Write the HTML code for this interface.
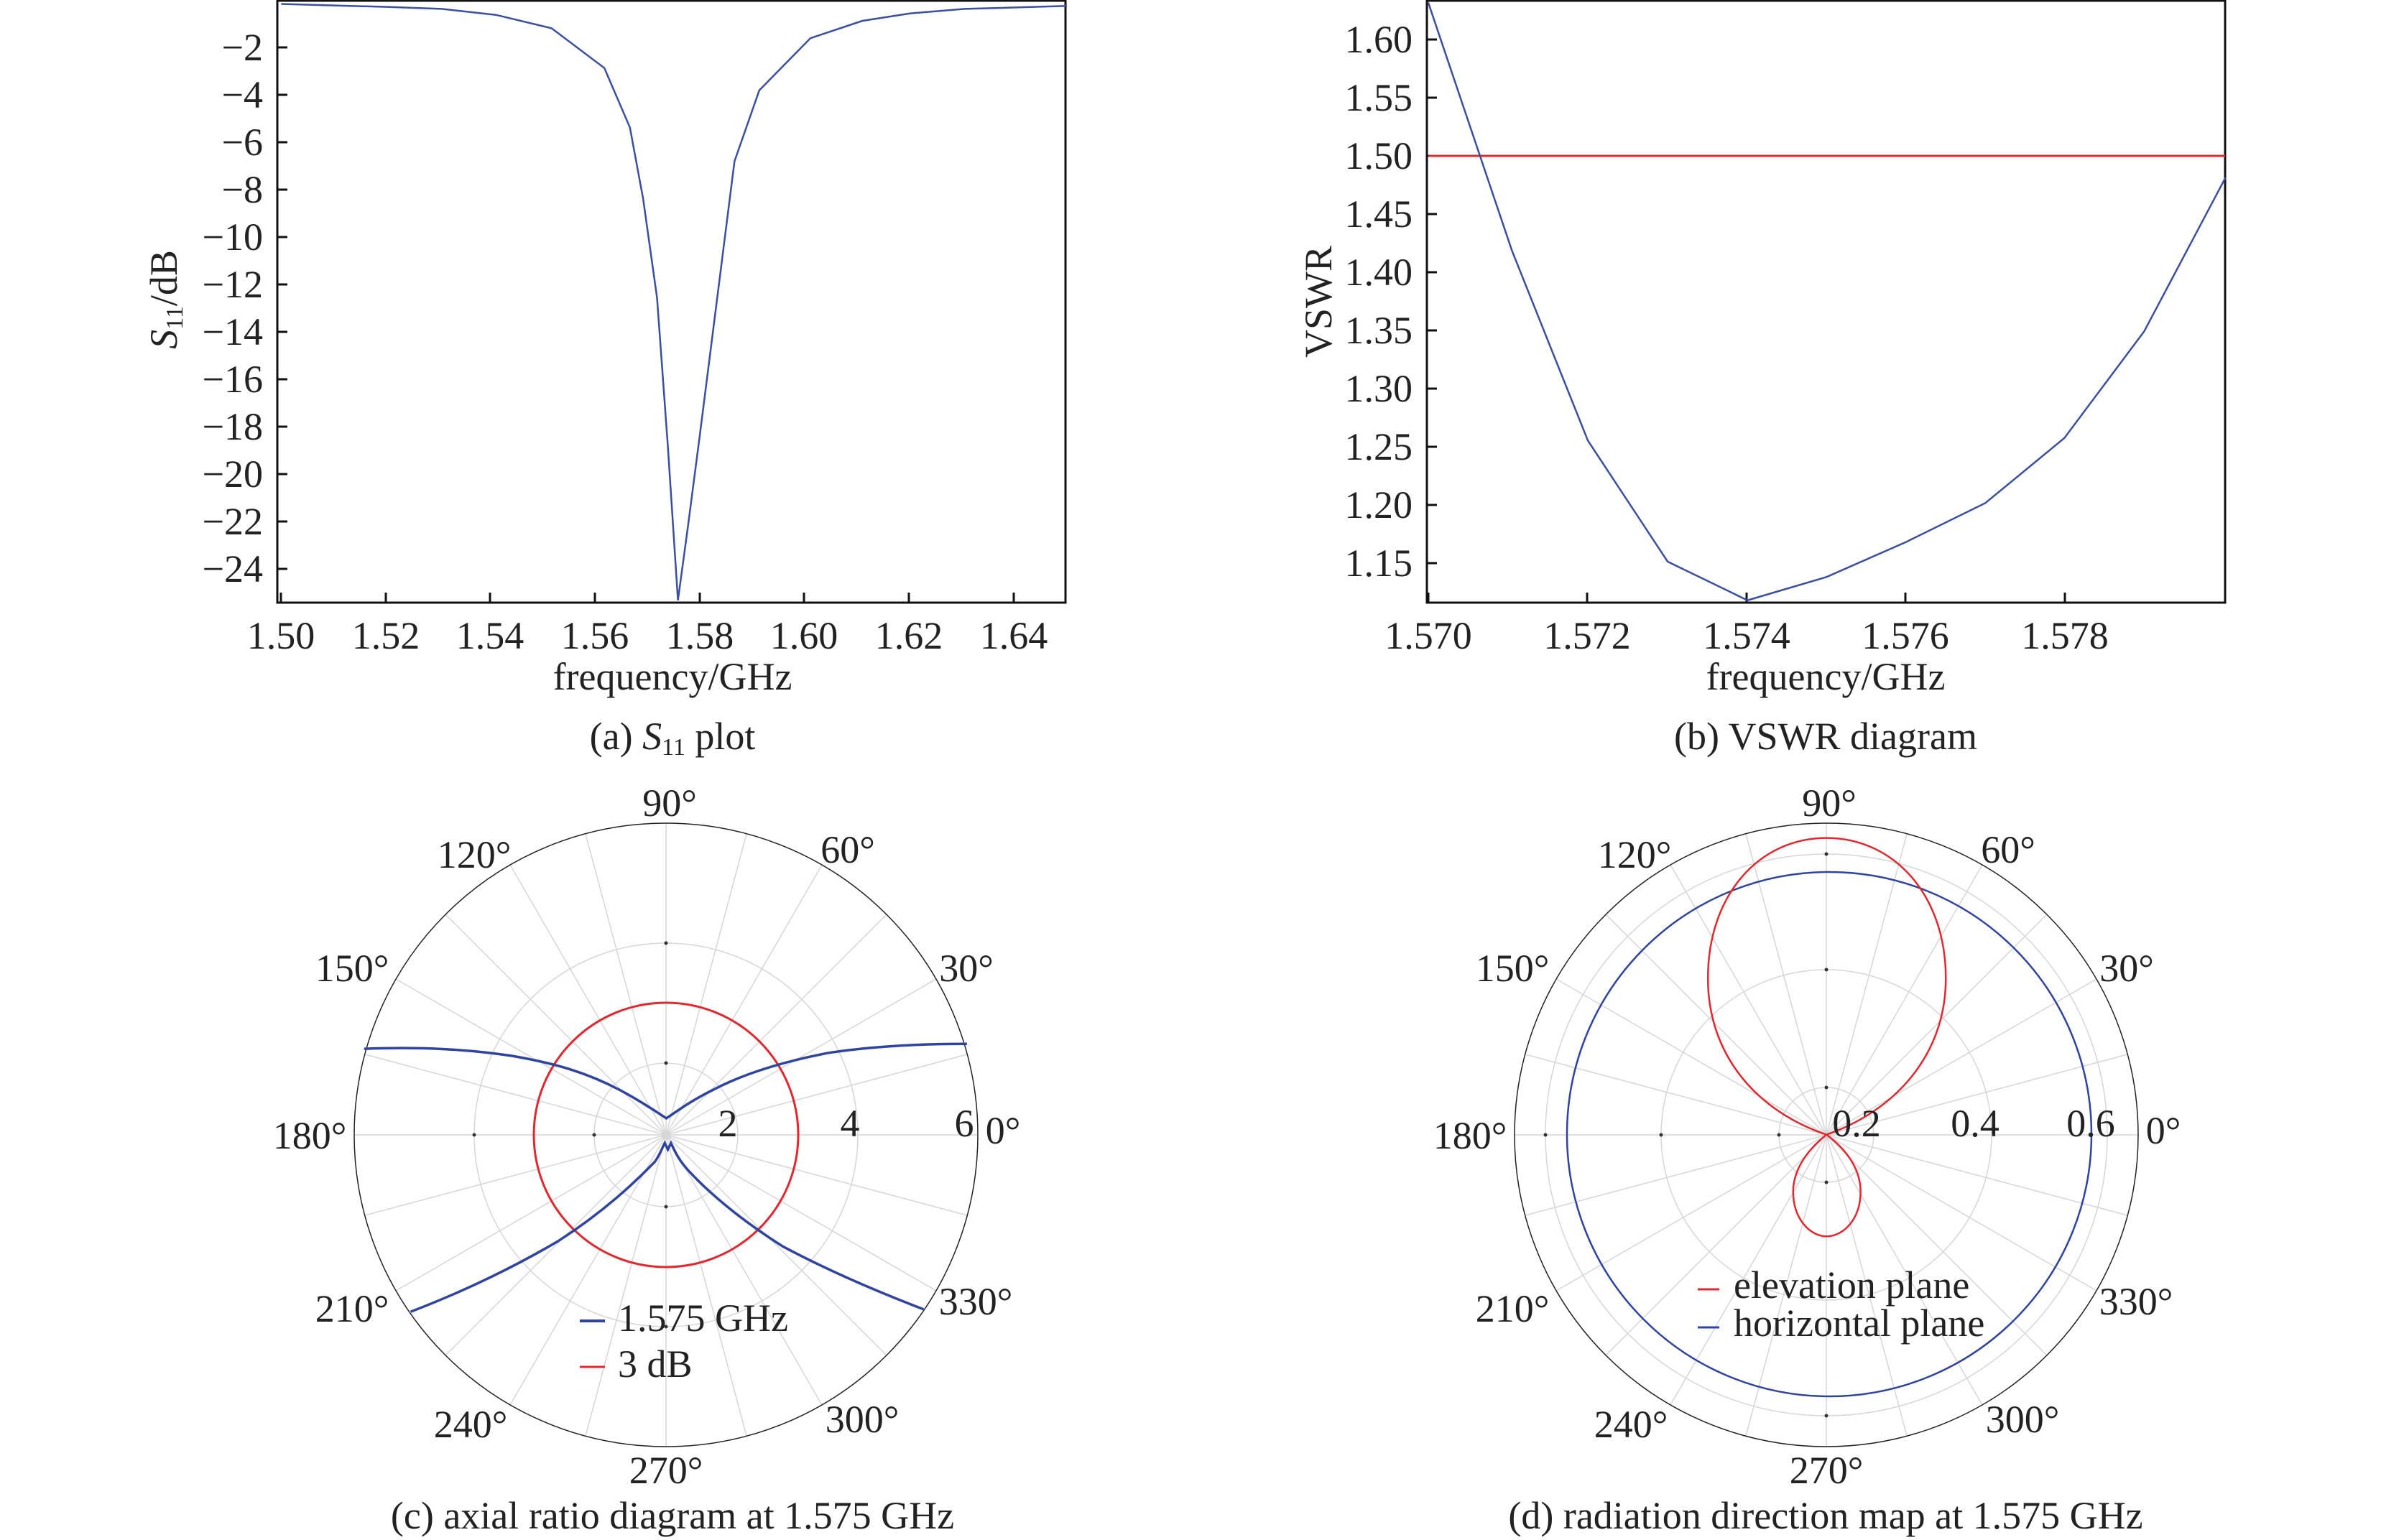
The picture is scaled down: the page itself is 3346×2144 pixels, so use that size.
<!DOCTYPE html>
<html><head><meta charset="utf-8"><style>html,body{margin:0;padding:0;background:#fff}svg{display:block}svg text{font-family:"Liberation Serif",serif}</style></head><body>
<svg xmlns="http://www.w3.org/2000/svg" width="3346" height="2144" viewBox="0 0 3346 2144" fill="#222">
<defs>
<g id="spokes" stroke="#d6d6d6" stroke-width="1.5">
<line x1="434" y1="0" x2="-434" y2="0"/><line x1="419" y1="-112" x2="-419" y2="112"/><line x1="376" y1="-217" x2="-376" y2="217"/><line x1="307" y1="-307" x2="-307" y2="307"/><line x1="217" y1="-376" x2="-217" y2="376"/><line x1="112" y1="-419" x2="-112" y2="419"/><line x1="0" y1="-434" x2="0" y2="434"/><line x1="-112" y1="-419" x2="112" y2="419"/><line x1="-217" y1="-376" x2="217" y2="376"/><line x1="-307" y1="-307" x2="307" y2="307"/><line x1="-376" y1="-217" x2="376" y2="217"/><line x1="-419" y1="-112" x2="419" y2="112"/>
</g>
</defs>

<!-- Panel a -->
<g fill="none" stroke="#111" stroke-width="3">
<rect x="386" y="1" width="1097" height="838"/>
</g>
<g stroke="#111" stroke-width="3">
<line x1="391" y1="839" x2="391" y2="825"/><line x1="537" y1="839" x2="537" y2="825"/><line x1="682" y1="839" x2="682" y2="825"/><line x1="828" y1="839" x2="828" y2="825"/><line x1="974" y1="839" x2="974" y2="825"/><line x1="1119" y1="839" x2="1119" y2="825"/><line x1="1265" y1="839" x2="1265" y2="825"/><line x1="1411" y1="839" x2="1411" y2="825"/>
<line x1="386" y1="66" x2="400" y2="66"/><line x1="386" y1="132" x2="400" y2="132"/><line x1="386" y1="198" x2="400" y2="198"/><line x1="386" y1="264" x2="400" y2="264"/><line x1="386" y1="330" x2="400" y2="330"/><line x1="386" y1="396" x2="400" y2="396"/><line x1="386" y1="462" x2="400" y2="462"/><line x1="386" y1="528" x2="400" y2="528"/><line x1="386" y1="594" x2="400" y2="594"/><line x1="386" y1="660" x2="400" y2="660"/><line x1="386" y1="726" x2="400" y2="726"/><line x1="386" y1="792" x2="400" y2="792"/>
</g>
<g transform="scale(1.0784,0.6907)">
<polyline fill="none" stroke="#3a4fa0" stroke-width="2.5" vector-effect="non-scaling-stroke" points="363,8 500,14 570,18 640,30 712,57 780,137 813,257 830,400 848,600 862,900 875,1210 888,1060 903,880 916,720 948,325 980,182 1046,77 1113,42 1175,27 1245,18 1377,12"/>
</g>
<g font-size="54" text-anchor="end">
<text x="366" y="84">−2</text><text x="366" y="150">−4</text><text x="366" y="216">−6</text><text x="366" y="282">−8</text><text x="366" y="348">−10</text><text x="366" y="414">−12</text><text x="366" y="480">−14</text><text x="366" y="546">−16</text><text x="366" y="612">−18</text><text x="366" y="678">−20</text><text x="366" y="744">−22</text><text x="366" y="810">−24</text>
</g>
<g font-size="54" text-anchor="middle">
<text x="391" y="903">1.50</text><text x="537" y="903">1.52</text><text x="682" y="903">1.54</text><text x="828" y="903">1.56</text><text x="974" y="903">1.58</text><text x="1119" y="903">1.60</text><text x="1265" y="903">1.62</text><text x="1411" y="903">1.64</text>
<text x="936" y="960">frequency/GHz</text>
<text x="936" y="1043">(a) <tspan font-style="italic">S</tspan><tspan font-size="34" dy="8">11</tspan><tspan dy="-8"> plot</tspan></text>
</g>
<text font-size="54" text-anchor="middle" transform="translate(246,417) rotate(-90)"><tspan font-style="italic">S</tspan><tspan font-size="34" dy="8">11</tspan><tspan dy="-8">/dB</tspan></text>

<!-- Panel b -->
<rect x="1986" y="1" width="1111" height="838" fill="none" stroke="#111" stroke-width="3"/>
<g stroke="#111" stroke-width="3">
<line x1="1988" y1="839" x2="1988" y2="825"/><line x1="2209" y1="839" x2="2209" y2="825"/><line x1="2431" y1="839" x2="2431" y2="825"/><line x1="2652" y1="839" x2="2652" y2="825"/><line x1="2874" y1="839" x2="2874" y2="825"/>
<line x1="1986" y1="55" x2="2000" y2="55"/><line x1="1986" y1="136" x2="2000" y2="136"/><line x1="1986" y1="217" x2="2000" y2="217"/><line x1="1986" y1="298" x2="2000" y2="298"/><line x1="1986" y1="379" x2="2000" y2="379"/><line x1="1986" y1="460" x2="2000" y2="460"/><line x1="1986" y1="541" x2="2000" y2="541"/><line x1="1986" y1="622" x2="2000" y2="622"/><line x1="1986" y1="703" x2="2000" y2="703"/><line x1="1986" y1="784" x2="2000" y2="784"/>
</g>
<line x1="1988" y1="217" x2="3097" y2="217" stroke="#e0282f" stroke-width="3"/>
<g transform="translate(1673,0) scale(1.0784,0.6907)">
<polyline fill="none" stroke="#3a4fa0" stroke-width="2.5" vector-effect="non-scaling-stroke" points="292,5 400,505 498,888 601,1132 704,1210 806,1163 908,1093 1011,1014 1113,883 1216,668 1321,358"/>
</g>
<g font-size="54" text-anchor="end">
<text x="1966" y="73">1.60</text><text x="1966" y="154">1.55</text><text x="1966" y="235">1.50</text><text x="1966" y="316">1.45</text><text x="1966" y="397">1.40</text><text x="1966" y="478">1.35</text><text x="1966" y="559">1.30</text><text x="1966" y="640">1.25</text><text x="1966" y="721">1.20</text><text x="1966" y="802">1.15</text>
</g>
<g font-size="54" text-anchor="middle">
<text x="1988" y="903">1.570</text><text x="2209" y="903">1.572</text><text x="2431" y="903">1.574</text><text x="2652" y="903">1.576</text><text x="2874" y="903">1.578</text>
<text x="2541" y="960">frequency/GHz</text>
<text x="2541" y="1043">(b) VSWR diagram</text>
</g>
<text font-size="54" text-anchor="middle" transform="translate(1853,420) rotate(-90)">VSWR</text>

<!-- Panel c -->
<g transform="translate(927,1580)">
<use href="#spokes"/>
<circle r="100" fill="none" stroke="#d6d6d6" stroke-width="1.5"/>
<circle r="267" fill="none" stroke="#d6d6d6" stroke-width="1.5"/>
<circle r="434" fill="none" stroke="#222" stroke-width="1.5"/>
<g fill="#333"><circle cx="-100" r="2.5"/><circle cx="-267" r="2.5"/><circle cy="-100" r="2.5"/><circle cy="-267" r="2.5"/><circle cy="100" r="2.5"/><circle cy="267" r="2.5"/></g>
<circle r="184" fill="none" stroke="#e0282f" stroke-width="3"/>
</g>
<g transform="translate(0,1072) scale(1.0784,0.6907)" fill="none" stroke="#2e44a0" stroke-width="3.5">
<path vector-effect="non-scaling-stroke" d="M470,562 C540,558 600,562 660,576 C720,592 760,612 800,645 C830,670 848,690 860,702 C872,690 890,668 920,645 C960,612 1010,588 1070,570 C1130,556 1190,552 1248,552"/>
<path vector-effect="non-scaling-stroke" d="M530,1092 C600,1050 660,1005 720,950 C780,890 820,830 845,790 C852,775 855,760 858,752 L862,765 L866,752 C870,765 875,785 890,810 C920,860 960,910 1010,960 C1070,1010 1130,1050 1192,1087"/>
</g>
<g font-size="54" text-anchor="middle">
<text x="932" y="1136">90°</text><text x="660" y="1208">120°</text><text x="1180" y="1201">60°</text><text x="490" y="1366">150°</text><text x="1345" y="1366">30°</text><text x="431" y="1599">180°</text><text x="1396" y="1592">0°</text><text x="490" y="1840">210°</text><text x="1358" y="1830">330°</text><text x="655" y="2001">240°</text><text x="1200" y="1994">300°</text><text x="927" y="2065">270°</text>
<text x="1013" y="1582">2</text><text x="1183" y="1582">4</text><text x="1342" y="1582">6</text>
</g>
<line x1="807" y1="1839" x2="842" y2="1839" stroke="#2e44a0" stroke-width="4"/>
<line x1="807" y1="1903" x2="842" y2="1903" stroke="#e0282f" stroke-width="3"/>
<g font-size="54"><text x="860" y="1853">1.575 GHz</text><text x="860" y="1917">3 dB</text></g>
<text x="936" y="2128" font-size="54" text-anchor="middle">(c) axial ratio diagram at 1.575 GHz</text>

<!-- Panel d -->
<g transform="translate(2542,1580)">
<use href="#spokes"/>
<circle r="66" fill="none" stroke="#d6d6d6" stroke-width="1.5"/>
<circle r="230" fill="none" stroke="#d6d6d6" stroke-width="1.5"/>
<circle r="391" fill="none" stroke="#d6d6d6" stroke-width="1.5"/>
<circle r="434" fill="none" stroke="#222" stroke-width="1.5"/>
<g fill="#333"><circle cx="-66" r="2.5"/><circle cx="-230" r="2.5"/><circle cx="-391" r="2.5"/><circle cy="-66" r="2.5"/><circle cy="-230" r="2.5"/><circle cy="-391" r="2.5"/><circle cy="66" r="2.5"/><circle cy="391" r="2.5"/></g>
</g>
<circle cx="2546" cy="1579" r="365" fill="none" stroke="#2e44a0" stroke-width="2.5"/>
<g transform="translate(1673,1072) scale(1.0784,0.6907)" fill="none" stroke="#e0282f" stroke-width="2.5">
<path vector-effect="non-scaling-stroke" d="M806,735 C720,690 653,580 653,420 C653,250 720,137 806,137 C892,137 960,250 960,420 C960,580 890,690 806,735 Z"/>
<path vector-effect="non-scaling-stroke" d="M806,735 C778,770 763,810 763,850 C763,905 785,940 806,940 C828,940 850,905 850,850 C850,810 836,770 806,735 Z"/>
</g>
<g font-size="54" text-anchor="middle">
<text x="2546" y="1136">90°</text><text x="2275" y="1208">120°</text><text x="2795" y="1201">60°</text><text x="2105" y="1366">150°</text><text x="2960" y="1366">30°</text><text x="2046" y="1599">180°</text><text x="3011" y="1592">0°</text><text x="2105" y="1840">210°</text><text x="2973" y="1830">330°</text><text x="2270" y="2001">240°</text><text x="2815" y="1994">300°</text><text x="2542" y="2065">270°</text>
<text x="2584" y="1582">0.2</text><text x="2749" y="1582">0.4</text><text x="2910" y="1582">0.6</text>
</g>
<line x1="2363" y1="1795" x2="2393" y2="1795" stroke="#e0282f" stroke-width="3"/>
<line x1="2363" y1="1848" x2="2393" y2="1848" stroke="#2e44a0" stroke-width="3"/>
<g font-size="54"><text x="2413" y="1807">elevation plane</text><text x="2413" y="1860">horizontal plane</text></g>
<text x="2541" y="2128" font-size="54" text-anchor="middle">(d) radiation direction map at 1.575 GHz</text>
</svg>
</body></html>
